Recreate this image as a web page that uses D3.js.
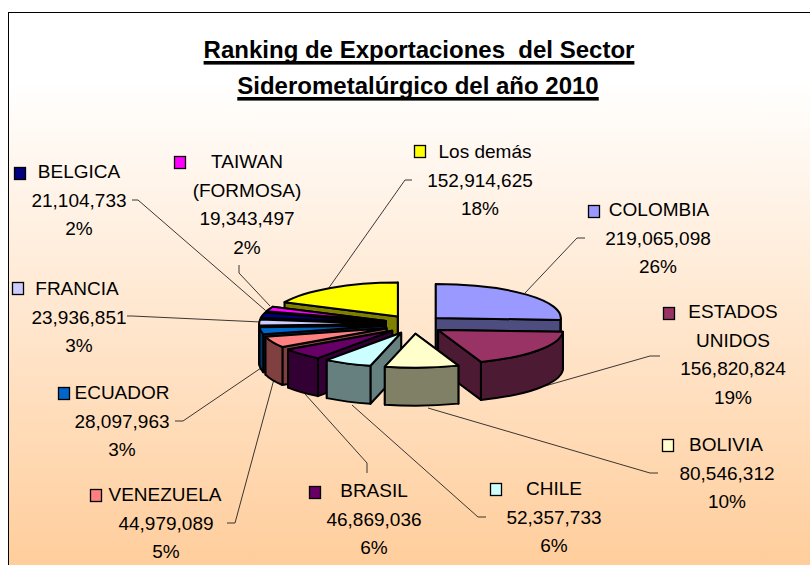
<!DOCTYPE html>
<html><head><meta charset="utf-8">
<script src="https://d3js.org/d3.v7.min.js"></script>
<style>html,body{margin:0;padding:0;background:#fff}svg{display:block}text{font-family:"Liberation Sans",Arial,sans-serif;fill:#000}</style>
</head><body><svg id="c" width="810" height="565"></svg>
<script>
const categories=["COLOMBIA","ESTADOS UNIDOS","BOLIVIA","CHILE","BRASIL","VENEZUELA","ECUADOR","FRANCIA","BELGICA","TAIWAN (FORMOSA)","Los demás"];
const values=[219065098,156820824,80546312,52357733,46869036,44979089,28097963,23936851,21104733,19343497,152914625];
const percents=["26%","19%","10%","6%","6%","5%","3%","3%","2%","2%","18%"];
const topColors=["#9999FF","#993366","#FFFFCC","#CCFFFF","#660066","#FF8080","#0066CC","#CCCCFF","#000080","#FF00FF","#FFFF00"];
const sideColors=["#4D4D80","#4D1A33","#808066","#668080","#330033","#804040","#003366","#666680","#000040","#800080","#808000"];
const nameLines=[["COLOMBIA"],["ESTADOS","UNIDOS"],["BOLIVIA"],["CHILE"],["BRASIL"],["VENEZUELA"],["ECUADOR"],["FRANCIA"],["BELGICA"],["TAIWAN","(FORMOSA)"],["Los demás"]];
// label layout: name centre x, value centre x, first baseline y, swatch x, swatch y
const labelPos=[[659,658,216,588,205],[733,733,318,663,307],[726,727,451,662,439],[554,554,495,490,483],[374,374,497,309,486],[165,166,501,90,489],[122,122,399,58,387],[77,79,295,12,282],[79,79,178,14,167],[247,247,168,174,156],[485,480,158,414,145]];
// leader polylines in page coordinates
const leaders=[[[525,293],[577,238],[585,238]],[[545,386],[650,356],[660,356]],[[428,408],[650,473],[658,473]],[[352,405],[478,517],[486,517]],[[305,394],[367,463],[367,473]],[[277,368],[235,523],[227,523]],[[261,368],[183,421],[175,421]],[[261,322],[132,316],[127,316]],[[265,310],[138,200],[132,200]],[[270,306],[239,273],[239,265]],[[328,289],[405,180],[412,180]]];

const W=810,H=565;
const svg=d3.select("#c");
const defs=svg.append("defs");
const g=defs.append("linearGradient").attr("id","bg").attr("x1",0).attr("x2",0).attr("y1",0).attr("y2",1);
g.append("stop").attr("offset","0").attr("stop-color","#FFFFFF");
g.append("stop").attr("offset","0.12").attr("stop-color","#FFFFFF");
g.append("stop").attr("offset","1").attr("stop-color","#FFCC99");
svg.append("rect").attr("x",8.5).attr("y",12.5).attr("width",W).attr("height",H).attr("fill","url(#bg)").attr("stroke","#000").attr("stroke-width",1);

// title with heavy underline sized from the measured text
[["Ranking de Exportaciones  del Sector",419,58,61],["Siderometalúrgico del año 2010",418,94,97]].forEach(([t,x,y,uy])=>{
  const el=svg.append("text").attr("x",x).attr("y",y).attr("text-anchor","middle").attr("font-size",24).attr("font-weight","bold").attr("textLength",null).style("white-space","pre").text(t);
  const w=el.node().getComputedTextLength();
  svg.append("rect").attr("x",x-w/2).attr("y",uy).attr("width",w).attr("height",3.6).attr("fill","#000");
});

// pie geometry
const cx=414,cy=324.4,rx=125,ry=34,ex=30,ey=9.3,depth=38;
const sx=d3.scaleLinear().domain([-1,1]).range([-rx,rx]);
const sy=d3.scaleLinear().domain([-1,1]).range([-ry,ry]);
const arcs=d3.pie().sort(null).value(d=>d)(values);
const ptAt=(o,a)=>[o[0]+sx(Math.sin(a)),o[1]-sy(Math.cos(a))];
const arcSeg=(a0,a1,o)=>{
  const p=ptAt(o,a1);
  const large=(a1-a0)>Math.PI?1:0;
  return `A${rx},${ry} 0 ${large} 1 ${p[0]},${p[1]}`;
};
const stroke={stroke:"#000","stroke-width":2,"stroke-linejoin":"round"};
function pathEl(sel,d,fill){const e=sel.append("path").attr("d",d).attr("fill",fill);Object.entries(stroke).forEach(([k,v])=>e.attr(k,v));}

// leaders under slices
leaders.forEach(pts=>{
  svg.append("path").attr("d",d3.line()(pts)).attr("fill","none").attr("stroke","#222").attr("stroke-width",0.9);
});

const order=arcs.map((a,i)=>({a,i,mid:(a.startAngle+a.endAngle)/2})).sort((p,q)=>Math.cos(q.mid)-Math.cos(p.mid));
const pieG=svg.append("g");
order.forEach(({a,i,mid})=>{
  const o=[cx+ex*Math.sin(mid),cy-ey*Math.cos(mid)];
  const a0=a.startAngle,a1=a.endAngle;
  const p0=ptAt(o,a0),p1=ptAt(o,a1);
  const face=(p)=>`M${o[0]},${o[1]}L${p[0]},${p[1]}L${p[0]},${p[1]+depth}L${o[0]},${o[1]+depth}Z`;
  const vis0=Math.sin(a0)<0,vis1=Math.sin(a1)>0;
  if(!vis0)pathEl(pieG,face(p0),sideColors[i]);
  if(!vis1)pathEl(pieG,face(p1),sideColors[i]);
  if(vis0)pathEl(pieG,face(p0),sideColors[i]);
  if(vis1)pathEl(pieG,face(p1),sideColors[i]);
  const w0=Math.max(a0,Math.PI/2),w1=Math.min(a1,1.5*Math.PI);
  if(w1>w0){
    const s=ptAt(o,w0),e=ptAt(o,w1);
    pathEl(pieG,`M${s[0]},${s[1]}${arcSeg(w0,w1,o)}L${e[0]},${e[1]+depth}A${rx},${ry} 0 0 0 ${s[0]},${s[1]+depth}Z`,sideColors[i]);
  }
  pathEl(pieG,`M${o[0]},${o[1]}L${p0[0]},${p0[1]}${arcSeg(a0,a1,o)}Z`,topColors[i]);
});

// labels
const fs=19,lh=28.6;
const fmt=d3.format(",");
categories.forEach((c,i)=>{
  const [nx,vx,y,kx,ky]=labelPos[i];
  const names=nameLines[i];
  names.forEach((t,j)=>svg.append("text").attr("x",nx).attr("y",y+j*lh).attr("text-anchor","middle").attr("font-size",fs).text(t));
  [fmt(values[i]),percents[i]].forEach((t,j)=>svg.append("text").attr("x",vx).attr("y",y+(names.length+j)*lh).attr("text-anchor","middle").attr("font-size",fs).text(t));
  svg.append("rect").attr("x",kx+.5).attr("y",ky+.5).attr("width",11).attr("height",12).attr("fill",topColors[i]).attr("stroke","#000").attr("stroke-width",1.3);
});
</script></body></html>
